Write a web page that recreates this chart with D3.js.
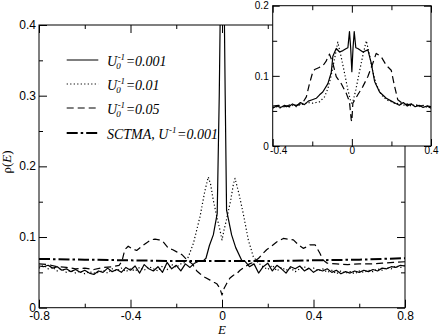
<!DOCTYPE html>
<html>
<head>
<meta charset="utf-8">
<script src="https://cdn.jsdelivr.net/npm/d3@7"></script>
<style>
body { margin: 0; background: #fff; }
svg { display: block; }
.tick text { font-family: "Liberation Sans", Arial, Helvetica, sans-serif; fill: #000; }
.tick line { stroke: #000; }
</style>
</head>
<body>
<div id="chart"></div>
<script>
/** data: [E, rho] **/
const mainSolid = [
  [-0.80,0.059],[-0.78,0.058],[-0.76,0.060],[-0.74,0.056],[-0.72,0.058],[-0.70,0.053],[-0.68,0.055],
  [-0.66,0.051],[-0.64,0.054],[-0.62,0.050],[-0.60,0.053],[-0.58,0.049],[-0.56,0.047],[-0.54,0.052],
  [-0.52,0.050],[-0.50,0.056],[-0.48,0.051],[-0.46,0.054],[-0.44,0.050],[-0.42,0.057],[-0.40,0.053],
  [-0.38,0.059],[-0.36,0.049],[-0.34,0.061],[-0.32,0.055],[-0.30,0.052],[-0.28,0.058],[-0.26,0.050],
  [-0.24,0.064],[-0.22,0.055],[-0.20,0.060],[-0.18,0.052],[-0.16,0.062],[-0.14,0.057],[-0.12,0.063],
  [-0.10,0.066],[-0.08,0.067],[-0.07,0.070],[-0.055,0.088],[-0.038,0.103],[-0.021,0.133],[-0.012,0.30],
  [-0.006,0.46],[-0.002,0.50],[0.0,0.47],[0.003,0.50],[0.009,0.45],[0.014,0.30],[0.020,0.138],
  [0.042,0.103],[0.060,0.085],[0.086,0.067],[0.10,0.066],[0.12,0.058],[0.14,0.062],[0.16,0.049],
  [0.18,0.058],[0.20,0.063],[0.22,0.052],[0.24,0.060],[0.26,0.055],[0.28,0.049],[0.30,0.058],
  [0.32,0.055],[0.34,0.059],[0.36,0.052],[0.38,0.056],[0.40,0.050],[0.42,0.054],[0.44,0.052],
  [0.46,0.055],[0.48,0.050],[0.50,0.053],[0.52,0.048],[0.54,0.051],[0.56,0.049],[0.58,0.052],
  [0.60,0.050],[0.62,0.053],[0.64,0.051],[0.66,0.054],[0.68,0.052],[0.70,0.056],[0.72,0.055],
  [0.74,0.058],[0.76,0.057],[0.78,0.060],[0.80,0.059]
];
const mainDotted = [
  [-0.80,0.056],[-0.78,0.060],[-0.76,0.055],[-0.74,0.057],[-0.72,0.052],[-0.70,0.055],[-0.68,0.050],
  [-0.66,0.053],[-0.64,0.049],[-0.62,0.052],[-0.60,0.048],[-0.58,0.051],[-0.56,0.049],[-0.54,0.050],
  [-0.52,0.053],[-0.50,0.049],[-0.48,0.055],[-0.46,0.052],[-0.44,0.056],[-0.42,0.051],[-0.40,0.055],
  [-0.38,0.052],[-0.36,0.057],[-0.34,0.053],[-0.32,0.058],[-0.30,0.055],[-0.28,0.052],[-0.26,0.059],
  [-0.24,0.054],[-0.22,0.061],[-0.20,0.057],[-0.18,0.062],[-0.16,0.064],[-0.147,0.072],[-0.125,0.091],
  [-0.096,0.129],[-0.075,0.165],[-0.060,0.185],[-0.050,0.175],[-0.038,0.152],[-0.020,0.125],
  [-0.009,0.110],[0.0,0.096],[0.009,0.110],[0.020,0.125],[0.038,0.152],[0.050,0.175],[0.057,0.183],
  [0.075,0.160],[0.093,0.133],[0.115,0.096],[0.137,0.072],[0.16,0.063],[0.18,0.058],[0.20,0.054],
  [0.22,0.060],[0.24,0.052],[0.26,0.057],[0.28,0.053],[0.30,0.056],[0.32,0.051],[0.34,0.055],
  [0.36,0.058],[0.38,0.053],[0.40,0.056],[0.42,0.052],[0.44,0.055],[0.46,0.050],[0.48,0.053],
  [0.50,0.048],[0.52,0.052],[0.54,0.049],[0.56,0.051],[0.58,0.048],[0.60,0.052],[0.62,0.050],
  [0.64,0.053],[0.66,0.051],[0.68,0.055],[0.70,0.053],[0.72,0.057],[0.74,0.055],[0.76,0.059],
  [0.78,0.057],[0.80,0.060]
];
const mainDashed = [
  [-0.80,0.062],[-0.76,0.061],[-0.72,0.058],[-0.68,0.057],[-0.64,0.055],[-0.60,0.056],[-0.56,0.054],
  [-0.52,0.057],[-0.48,0.058],[-0.45,0.060],[-0.438,0.065],[-0.425,0.082],[-0.41,0.087],[-0.39,0.083],
  [-0.373,0.081],[-0.35,0.087],[-0.329,0.092],[-0.31,0.096],[-0.293,0.097],[-0.275,0.096],
  [-0.257,0.093],[-0.234,0.084],[-0.215,0.082],[-0.198,0.079],[-0.175,0.075],[-0.154,0.068],
  [-0.13,0.062],[-0.11,0.052],[-0.096,0.048],[-0.075,0.043],[-0.052,0.039],[-0.035,0.036],
  [-0.023,0.034],[-0.010,0.028],[0.0,0.018],[0.010,0.028],[0.020,0.034],[0.035,0.042],[0.050,0.046],
  [0.064,0.048],[0.079,0.053],[0.10,0.058],[0.12,0.062],[0.137,0.064],[0.16,0.070],[0.18,0.077],
  [0.195,0.082],[0.22,0.088],[0.239,0.093],[0.268,0.098],[0.29,0.097],[0.312,0.096],[0.334,0.089],
  [0.355,0.084],[0.37,0.086],[0.385,0.089],[0.407,0.089],[0.428,0.077],[0.443,0.067],[0.46,0.063],
  [0.50,0.062],[0.55,0.061],[0.60,0.062],[0.65,0.062],[0.70,0.063],[0.75,0.064],[0.80,0.065]
];
const mainSctma = [
  [-0.80,0.069],[-0.60,0.068],[-0.40,0.067],[-0.20,0.066],[0.0,0.066],[0.20,0.066],[0.40,0.067],
  [0.60,0.068],[0.80,0.070]
];

const insetSolid = [
  [-0.40,0.054],[-0.38,0.057],[-0.36,0.055],[-0.34,0.058],[-0.32,0.056],[-0.30,0.060],[-0.28,0.057],
  [-0.26,0.062],[-0.24,0.059],[-0.22,0.064],[-0.20,0.066],[-0.18,0.068],[-0.163,0.073],[-0.147,0.077],
  [-0.121,0.089],[-0.104,0.105],[-0.096,0.128],[-0.079,0.139],[-0.062,0.134],[-0.045,0.136],
  [-0.028,0.139],[-0.020,0.140],[-0.012,0.163],[-0.006,0.140],[0.0,0.106],[0.006,0.140],[0.012,0.163],
  [0.020,0.140],[0.030,0.139],[0.056,0.134],[0.081,0.137],[0.098,0.118],[0.115,0.092],[0.14,0.077],
  [0.174,0.068],[0.20,0.064],[0.22,0.061],[0.24,0.058],[0.26,0.062],[0.28,0.057],[0.30,0.060],
  [0.32,0.056],[0.34,0.058],[0.36,0.055],[0.38,0.057],[0.40,0.054]
];
const insetDotted = [
  [-0.40,0.055],[-0.38,0.056],[-0.36,0.054],[-0.34,0.057],[-0.32,0.055],[-0.30,0.058],[-0.28,0.056],
  [-0.26,0.059],[-0.24,0.060],[-0.22,0.062],[-0.20,0.061],[-0.18,0.062],[-0.163,0.063],[-0.138,0.070],
  [-0.121,0.082],[-0.104,0.101],[-0.087,0.125],[-0.071,0.148],[-0.054,0.127],[-0.037,0.104],
  [-0.020,0.080],[-0.008,0.066],[0.0,0.061],[0.008,0.066],[0.020,0.080],[0.037,0.104],[0.054,0.127],
  [0.073,0.150],[0.089,0.130],[0.106,0.106],[0.123,0.088],[0.149,0.073],[0.174,0.066],[0.20,0.063],
  [0.22,0.060],[0.24,0.061],[0.26,0.058],[0.28,0.060],[0.30,0.057],[0.32,0.059],[0.34,0.056],
  [0.36,0.058],[0.38,0.055],[0.40,0.056]
];
const insetDashed = [
  [-0.40,0.057],[-0.37,0.058],[-0.34,0.056],[-0.31,0.059],[-0.28,0.058],[-0.25,0.061],[-0.23,0.070],
  [-0.214,0.089],[-0.197,0.106],[-0.188,0.109],[-0.165,0.112],[-0.147,0.114],[-0.13,0.121],
  [-0.113,0.131],[-0.096,0.118],[-0.079,0.099],[-0.054,0.089],[-0.028,0.075],[-0.012,0.063],
  [-0.003,0.037],[0.0,0.035],[0.005,0.061],[0.030,0.073],[0.056,0.085],[0.081,0.099],[0.106,0.118],
  [0.123,0.132],[0.149,0.127],[0.174,0.115],[0.199,0.108],[0.216,0.085],[0.232,0.066],[0.25,0.062],
  [0.28,0.059],[0.31,0.060],[0.34,0.057],[0.37,0.058],[0.40,0.056]
];

const mainXMajor = [-0.8, -0.4, 0, 0.4, 0.8];
const mainXMinor = [-0.6, -0.2, 0.2, 0.6];
const mainYMajor = [0, 0.1, 0.2, 0.3, 0.4];
const mainYMinor = [0.05, 0.15, 0.25, 0.35];
const insetXMajor = [-0.4, 0, 0.4];
const insetXMinor = [-0.2, 0.2];
const insetYMajor = [0, 0.1, 0.2];
const insetYMinor = [0.05, 0.15];

const legendLabels = [
  { base: "U", sub: "0", sup: "-1", rest: "=0.001" },
  { base: "U", sub: "0", sup: "-1", rest: "=0.01" },
  { base: "U", sub: "0", sup: "-1", rest: "=0.05" },
  { base: "SCTMA, U", sub: "", sup: "-1", rest: "=0.001" }
];

/** styles per series **/
const styles = [
  { dash: null, width: 1.2 },
  { dash: "1.2,2.3", width: 1.2 },
  { dash: "7,4", width: 1.2 },
  { dash: "11,3,2.5,3", width: 2 }
];

const W = 440, H = 336;
const svg = d3.select("#chart").append("svg").attr("width", W).attr("height", H);

const x = d3.scaleLinear().domain([-0.8, 0.8]).range([39, 405]);
const y = d3.scaleLinear().domain([0, 0.4]).range([307.7, 25]);
const xi = d3.scaleLinear().domain([-0.4, 0.4]).range([272.7, 431]);
const yi = d3.scaleLinear().domain([0, 0.2]).range([146, 5.7]);

const fmt = d => d === 0 ? "0" : String(d);

function drawAxes(g, xs, ys, o) {
    const [x0, x1] = xs.range();
    const [y0, y1] = ys.range();

    const bottom = g.append("g").attr("transform", `translate(0,${y0})`)
        .call(d3.axisBottom(xs).tickValues(o.xMajor).tickSize(-o.major).tickPadding(o.xPad).tickFormat(fmt));
    g.append("g").attr("transform", `translate(0,${y0})`)
        .call(d3.axisBottom(xs).tickValues(o.xMinor).tickSize(-o.minor).tickFormat(""));
    g.append("g").attr("transform", `translate(0,${y1})`)
        .call(d3.axisTop(xs).tickValues(o.xMajor).tickSize(-o.major).tickFormat(""));
    g.append("g").attr("transform", `translate(0,${y1})`)
        .call(d3.axisTop(xs).tickValues(o.xMinor).tickSize(-o.minor).tickFormat(""));

    const left = g.append("g").attr("transform", `translate(${x0},0)`)
        .call(d3.axisLeft(ys).tickValues(o.yMajor).tickSize(-o.major).tickPadding(o.yPad).tickFormat(fmt));
    g.append("g").attr("transform", `translate(${x0},0)`)
        .call(d3.axisLeft(ys).tickValues(o.yMinor).tickSize(-o.minor).tickFormat(""));
    g.append("g").attr("transform", `translate(${x1},0)`)
        .call(d3.axisRight(ys).tickValues(o.yMajor).tickSize(-o.major).tickFormat(""));
    g.append("g").attr("transform", `translate(${x1},0)`)
        .call(d3.axisRight(ys).tickValues(o.yMinor).tickSize(-o.minor).tickFormat(""));

    g.selectAll(".domain").remove();
    bottom.selectAll("text").attr("font-size", o.font)
        .attr("dx", (d, i) => i === 0 ? o.firstDx : 0);
    left.selectAll("text").attr("font-size", o.font).attr("dy", o.yDy);

    g.append("rect")
        .attr("x", x0).attr("y", y1)
        .attr("width", x1 - x0).attr("height", y0 - y1)
        .attr("fill", "none").attr("stroke", "#000").attr("stroke-width", 1);
}

function drawCurves(g, xs, ys, series, clipId) {
    const [x0, x1] = xs.range();
    const [y0, y1] = ys.range();
    svg.append("clipPath").attr("id", clipId)
        .append("rect").attr("x", x0).attr("y", y1).attr("width", x1 - x0).attr("height", y0 - y1);
    const line = d3.line().x(d => xs(d[0])).y(d => ys(d[1]));
    const cg = g.append("g").attr("clip-path", `url(#${clipId})`);
    series.forEach((s, i) => {
        cg.append("path")
            .attr("d", line(s))
            .attr("fill", "none")
            .attr("stroke", "#000")
            .attr("stroke-width", styles[i].width)
            .attr("stroke-dasharray", styles[i].dash)
            .attr("stroke-linejoin", "round");
    });
}

// main plot
const mainG = svg.append("g");
drawCurves(mainG, x, y, [mainSolid, mainDotted, mainDashed, mainSctma], "clipMain");
drawAxes(mainG, x, y, {
    xMajor: mainXMajor, xMinor: mainXMinor, yMajor: mainYMajor, yMinor: mainYMinor,
    major: 8, minor: 4, xPad: 4, yPad: 3, font: 12, yDy: "0.3em", firstDx: 0
});

// legend
const legendG = svg.append("g");
const rowY = [60, 84, 108, 133];
legendLabels.forEach((lab, i) => {
    legendG.append("line")
        .attr("x1", 66.7).attr("x2", 98.3)
        .attr("y1", rowY[i]).attr("y2", rowY[i])
        .attr("stroke", "#000")
        .attr("stroke-width", styles[i].width)
        .attr("stroke-dasharray", styles[i].dash);

    const tx = 107, ty = rowY[i] + 5.5;
    const textAttrs = t => t.attr("font-family", "'Liberation Serif', 'Times New Roman', serif")
        .attr("font-style", "italic").attr("fill", "#000");
    const base = legendG.append("text").attr("x", tx).attr("y", ty).attr("font-size", 14).text(lab.base).call(textAttrs);
    const bx = tx + base.node().getComputedTextLength() + 0.5;
    let w = 0;
    if (lab.sub) {
        const s = legendG.append("text").attr("x", bx - 1.5).attr("y", ty + 3).attr("font-size", 9).text(lab.sub).call(textAttrs);
        w = Math.max(w, s.node().getComputedTextLength() - 1.5);
    }
    const sp = legendG.append("text").attr("x", bx).attr("y", ty - 6).attr("font-size", 9).text(lab.sup).call(textAttrs);
    w = Math.max(w, sp.node().getComputedTextLength());
    legendG.append("text").attr("x", bx + w + 0.5).attr("y", ty).attr("font-size", 14).text(lab.rest).call(textAttrs);
});

// axis titles
svg.append("text")
    .attr("transform", "translate(11,162) rotate(-90)")
    .attr("text-anchor", "middle")
    .attr("font-family", "'Liberation Serif', 'Times New Roman', serif")
    .attr("font-size", 13)
    .html('ρ(<tspan font-style="italic">E</tspan>)');

svg.append("text")
    .attr("x", x(0)).attr("y", 334)
    .attr("text-anchor", "middle")
    .attr("font-family", "'Liberation Serif', 'Times New Roman', serif")
    .attr("font-style", "italic")
    .attr("font-size", 13)
    .text("E");

// inset
const insetG = svg.append("g");
insetG.append("rect")
    .attr("x", xi.range()[0]).attr("y", yi.range()[1])
    .attr("width", xi.range()[1] - xi.range()[0]).attr("height", yi.range()[0] - yi.range()[1])
    .attr("fill", "#fff");
drawCurves(insetG, xi, yi, [insetSolid, insetDotted, insetDashed], "clipInset");
drawAxes(insetG, xi, yi, {
    xMajor: insetXMajor, xMinor: insetXMinor, yMajor: insetYMajor, yMinor: insetYMinor,
    major: 7, minor: 4.5, xPad: 1, yPad: 4, font: 10, yDy: "0.32em", firstDx: 5.5
});
</script>
</body>
</html>
